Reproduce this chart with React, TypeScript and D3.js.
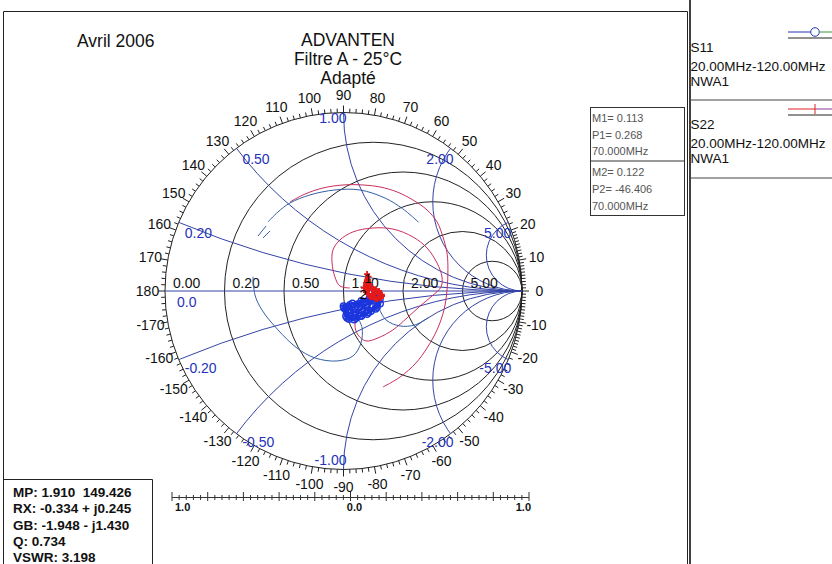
import React from 'react';
import * as d3 from 'd3';

type P = [number, number];

// ---------- text content ----------
const dateLabel = 'Avril 2006';
const titleLines = ['ADVANTEN', 'Filtre A - 25°C', 'Adapté'];
const resistanceValues = [0, 0.2, 0.5, 1, 2, 5];
const resistanceLabels = ['0.00', '0.20', '0.50', '1.00', '2.00', '5.00'];
const reactanceValues = [0.2, 0.5, 1, 2, 5, -0.2, -0.5, -1, -2, -5];
const reactanceLabels = ['0.20', '0.50', '1.00', '2.00', '5.00', '-0.20', '-0.50', '-1.00', '-2.00', '-5.00'];
const angleLabels = d3.range(-170, 181, 10);
const markerBox1 = ['M1= 0.113', 'P1= 0.268', '70.000MHz'];
const markerBox2 = ['M2= 0.122', 'P2= -46.406', '70.000MHz'];
const markerNames = ['1', '2'];
const markerMag = [0.113, 0.122];
const markerPhase = [0.268, -46.406];
const infoLines = ['MP: 1.910  149.426', 'RX: -0.334 + j0.245', 'GB: -1.948 - j1.430', 'Q: 0.734', 'VSWR: 3.198'];
const legendNames = ['S11', 'S22'];
const legendRanges = ['20.00MHz-120.00MHz', '20.00MHz-120.00MHz'];
const legendSources = ['NWA1', 'NWA1'];
const scaleLabels = ['1.0', '0.0', '1.0'];

// ---------- traces (reflection coefficient re, im) ----------
const s11Dash1: P[] = [[-0.479, 0.308], [-0.434, 0.364]];
const s11Dash2: P[] = [[-0.451, 0.297], [-0.412, 0.336]];
const s11Upper: P[] = [[-0.423, 0.387], [-0.367, 0.443], [-0.300, 0.493], [-0.188, 0.538], [-0.048, 0.566], [0.092, 0.566], [0.232, 0.521], [0.330, 0.462], [0.420, 0.386]];
const s11Lower: P[] = [[-0.507, 0.080], [-0.496, -0.022], [-0.457, -0.106], [-0.367, -0.218], [-0.261, -0.319], [-0.160, -0.375], [-0.036, -0.392], [0.053, -0.364], [0.098, -0.291], [0.104, -0.207], [0.081, -0.151]];
const s11Tail: P[] = [[0.193, -0.084], [0.238, -0.162], [0.317, -0.196], [0.401, -0.190], [0.473, -0.151]];
const s11Blob: P[] = [[0.014, -0.140], [0.003, -0.095], [0.036, -0.078], [0.053, -0.129], [0.031, -0.157], [0.070, -0.151], [0.081, -0.095], [0.104, -0.067], [0.120, -0.112], [0.092, -0.140], [0.132, -0.129], [0.148, -0.078], [0.171, -0.050], [0.188, -0.090], [0.154, -0.112], [0.204, -0.045], [0.193, -0.017], [0.160, -0.045], [0.126, -0.078], [0.098, -0.101], [0.064, -0.118], [0.031, -0.123], [0.014, -0.101], [0.048, -0.090], [0.081, -0.073], [0.115, -0.062], [0.143, -0.045], [0.171, -0.028], [0.205, -0.070], [0.180, -0.100], [0.140, -0.120], [0.100, -0.140], [0.060, -0.160], [0.020, -0.150], [0.000, -0.085], [0.050, -0.070], [0.100, -0.055], [0.150, -0.035], [0.190, -0.020]];

const s22Outer: P[] = [[-0.300, 0.499], [-0.216, 0.543], [-0.115, 0.577], [-0.003, 0.594], [0.109, 0.594], [0.204, 0.583], [0.300, 0.555], [0.389, 0.510], [0.468, 0.454], [0.524, 0.387], [0.557, 0.303], [0.580, 0.213], [0.585, 0.118], [0.580, 0.006], [0.563, -0.106], [0.524, -0.218], [0.468, -0.319], [0.406, -0.403], [0.317, -0.482], [0.221, -0.538]];
const s22Inner: P[] = [[0.036, 0.017], [-0.020, 0.028], [-0.048, 0.078], [-0.064, 0.157], [-0.059, 0.230], [-0.020, 0.286], [0.053, 0.331], [0.165, 0.353], [0.277, 0.347], [0.389, 0.303], [0.468, 0.241], [0.524, 0.157], [0.552, 0.078], [0.546, 0.022], [0.496, -0.028], [0.429, -0.084], [0.356, -0.151], [0.277, -0.218], [0.193, -0.263], [0.126, -0.280], [0.081, -0.246], [0.064, -0.190], [0.076, -0.146], [0.104, -0.106]];
const s22Blob: P[] = [[0.132, 0.095], [0.126, 0.045], [0.143, 0.006], [0.115, 0.017], [0.137, 0.062], [0.154, 0.022], [0.176, -0.011], [0.148, -0.028], [0.126, -0.006], [0.165, 0.011], [0.193, -0.017], [0.210, -0.039], [0.182, -0.045], [0.160, -0.017], [0.199, 0.000], [0.216, -0.028], [0.190, -0.045], [0.150, -0.035], [0.128, 0.030], [0.140, 0.080], [0.145, 0.040], [0.180, 0.010], [0.215, -0.020]];

const FONT = 'Liberation Sans, Arial, Helvetica, sans-serif';
const CX = 343.5, CY = 291, R = 178.5;
const GRID_BLUE = '#3444a6';
const LABEL_BLUE = '#2432b8';

export default function App() {
  const x = d3.scaleLinear().domain([-1, 1]).range([CX - R, CX + R]);
  const y = d3.scaleLinear().domain([-1, 1]).range([CY + R, CY - R]);
  const smooth = d3.line<P>().x(d => x(d[0])).y(d => y(d[1])).curve(d3.curveCatmullRom.alpha(0.5));
  const straight = d3.line<P>().x(d => x(d[0])).y(d => y(d[1]));
  const polar = (deg: number, rad: number): P => [CX + rad * Math.cos(deg * Math.PI / 180), CY - rad * Math.sin(deg * Math.PI / 180)];

  // rim ticks
  const tickAngles = d3.range(-180, 180, 2).concat(d3.range(-19, 20, 2));
  // bottom scale
  const sx = d3.scaleLinear().domain([-1, 1]).range([172, 529]);
  const scaleTicks = d3.range(0, 51).map(i => ({ v: -1 + i * 0.04, major: i % 5 === 0 }));

  const markerPts: P[] = markerMag.map((m, i) => [m * Math.cos(markerPhase[i] * Math.PI / 180), m * Math.sin(markerPhase[i] * Math.PI / 180)]);

  return (
    <svg width={832} height={564} style={{ position: 'absolute', left: 0, top: 0, background: '#fff' }} fontFamily={FONT}>
      <defs>
        <clipPath id="unit">
          <circle cx={CX} cy={CY} r={R} />
        </clipPath>
      </defs>
      <rect x={0} y={0} width={832} height={564} fill="#fff" />

      {/* frames */}
      <path d="M3.5,564 V11.5 H687.5 V564" fill="none" stroke="#222" strokeWidth={1} />
      <line x1={690} y1={0} x2={690} y2={564} stroke="#111" strokeWidth={1.6} />
      <line x1={690} y1={100} x2={832} y2={100} stroke="#444" strokeWidth={1} />
      <line x1={690} y1={178} x2={832} y2={178} stroke="#444" strokeWidth={1} />

      {/* titles */}
      <text x={77} y={47} fontSize={17.5} fill="#111">{dateLabel}</text>
      {titleLines.map((t, i) => (
        <text key={t} x={348} y={46 + i * 19} fontSize={17.5} textAnchor="middle" fill="#111">{t}</text>
      ))}

      {/* resistance circles */}
      <g fill="none" stroke="#222" strokeWidth={1}>
        {resistanceValues.map(r => (
          <circle key={r} cx={x(r / (1 + r))} cy={CY} r={R / (1 + r)} />
        ))}
      </g>
      {/* reactance arcs */}
      <g fill="none" stroke={GRID_BLUE} strokeWidth={1} clipPath="url(#unit)">
        {reactanceValues.map(v => (
          <circle key={v} cx={x(1)} cy={y(1 / v)} r={R / Math.abs(v)} />
        ))}
      </g>
      <line x1={x(-1)} y1={CY} x2={x(1)} y2={CY} stroke={GRID_BLUE} strokeWidth={1} />

      {/* rim ticks */}
      <g stroke="#222" strokeWidth={1}>
        {tickAngles.map((a, i) => {
          const len = a % 10 === 0 ? 7 : 4;
          const p0 = polar(a, R);
          const p1 = polar(a, R + len);
          return <line key={i} x1={p0[0]} y1={p0[1]} x2={p1[0]} y2={p1[1]} />;
        })}
      </g>
      {/* angle labels */}
      <g fontSize={14} fill="#111" textAnchor="middle">
        {angleLabels.map(a => {
          const p = polar(a, 196);
          return <text key={a} x={p[0]} y={p[1]} dy="0.36em">{a}</text>;
        })}
      </g>
      {/* resistance labels */}
      <g fontSize={14} fill="#111">
        {resistanceValues.map((r, i) => (
          <text key={r} x={x((r - 1) / (r + 1)) + 8} y={CY - 3}>{resistanceLabels[i]}</text>
        ))}
      </g>
      <text x={x(-1) + 12} y={CY + 16} fontSize={14} fill={LABEL_BLUE}>0.0</text>
      {/* reactance labels */}
      <g fontSize={14} fill={LABEL_BLUE}>
        {reactanceValues.map((v, i) => {
          const gr = (v * v - 1) / (v * v + 1);
          const gi = (2 * v) / (v * v + 1);
          const big = Math.abs(v) >= 1;
          const dx = big ? 3 : 6;
          const dy = v > 0 ? (v === 1 ? 10.5 : 16) : (v === -1 ? -4.5 : 13);
          return (
            <text key={v} x={x(gr) + dx} y={y(gi) + dy} textAnchor={big ? 'end' : 'start'}>{reactanceLabels[i]}</text>
          );
        })}
      </g>

      {/* S22 trace */}
      <g fill="none" stroke="#c8305c" strokeWidth={1}>
        <path d={smooth(s22Outer) || ''} />
        <path d={smooth(s22Inner) || ''} />
      </g>
      {/* S11 trace */}
      <g fill="none" stroke="#3560a4" strokeWidth={1}>
        <path d={straight(s11Dash1) || ''} />
        <path d={straight(s11Dash2) || ''} />
        <path d={smooth(s11Upper) || ''} />
        <path d={smooth(s11Lower) || ''} />
        <path d={smooth(s11Tail) || ''} />
      </g>
      {/* S11 dense passband */}
      <g fill="none" stroke="#1c36de" strokeWidth={1.4}>
        <path d={smooth(s11Blob) || ''} strokeWidth={2.6} />
        {s11Blob.map((d, i) => (
          <circle key={i} cx={x(d[0])} cy={y(d[1])} r={3.2} strokeWidth={1.4} />
        ))}
      </g>
      {/* S22 dense passband */}
      <g fill="none" stroke="#e41a1a" strokeWidth={3}>
        <path d={smooth(s22Blob) || ''} />
        {s22Blob.map((d, i) => (
          <path key={i} d={`M${x(d[0]) - 3},${y(d[1])}H${x(d[0]) + 3}M${x(d[0])},${y(d[1]) - 3}V${y(d[1]) + 3}`} strokeWidth={1.8} />
        ))}
      </g>
      {/* marker labels */}
      {markerPts.map((p, i) => (
        <text key={i} x={x(p[0]) + 4.5} y={y(p[1]) - 7.5} fontSize={13} textAnchor="middle" fill="#000">{markerNames[i]}</text>
      ))}

      {/* marker box */}
      <g fill="none" stroke="#333" strokeWidth={1}>
        <rect x={590.5} y={107.5} width={94} height={108} />
        <line x1={590.5} y1={161} x2={684.5} y2={161} />
      </g>
      <g fontSize={11} fill="#555">
        {markerBox1.map((t, i) => <text key={'a' + i} x={592} y={122 + i * 16.7}>{t}</text>)}
        {markerBox2.map((t, i) => <text key={'b' + i} x={592} y={175.5 + i * 17}>{t}</text>)}
      </g>

      {/* legend */}
      <g fontSize={13.5} fill="#111">
        {legendNames.map((n, i) => {
          const oy = i * 77;
          return (
            <g key={n}>
              <text x={690.5} y={52 + oy}>{n}</text>
              <text x={690.5} y={71 + oy}>{legendRanges[i]}</text>
              <text x={690.5} y={85.5 + oy}>{legendSources[i]}</text>
            </g>
          );
        })}
      </g>
      <g fill="none" strokeWidth={1}>
        <line x1={788} y1={32} x2={811} y2={32} stroke="#2233bb" />
        <circle cx={815} cy={32} r={4.3} stroke="#2233bb" fill="#fff" />
        <line x1={819.3} y1={32} x2={832} y2={32} stroke="#3a9a3a" />
        <line x1={788} y1={38} x2={832} y2={38} stroke="#222" />
        <line x1={788} y1={109} x2={815} y2={109} stroke="#e02020" />
        <line x1={815} y1={109} x2={832} y2={109} stroke="#8a3a9a" />
        <line x1={815} y1={104} x2={815} y2={114} stroke="#e02020" />
        <line x1={788} y1={115} x2={832} y2={115} stroke="#222" />
      </g>

      {/* info box */}
      <path d="M3.5,479.5 H152.5 V564" fill="none" stroke="#222" strokeWidth={1} />
      <g fontSize={13.5} fontWeight="bold" fill="#111">
        {infoLines.map((t, i) => <text key={i} x={13} y={497 + i * 16.3} xmlSpace="preserve">{t}</text>)}
      </g>

      {/* bottom magnitude scale */}
      <g stroke="#333" strokeWidth={1}>
        <line x1={sx(-1)} y1={497.5} x2={sx(1)} y2={497.5} />
        {scaleTicks.map((t, i) => (
          <line key={i} x1={sx(t.v)} y1={t.major ? 492 : 495} x2={sx(t.v)} y2={t.major ? 501 : 500} />
        ))}
      </g>
      <g fontSize={11} fontWeight="bold" fill="#111">
        <text x={sx(-1) + 3} y={511}>{scaleLabels[0]}</text>
        <text x={sx(0) + 4} y={511} textAnchor="middle">{scaleLabels[1]}</text>
        <text x={sx(1) + 2} y={511} textAnchor="end">{scaleLabels[2]}</text>
      </g>
    </svg>
  );
}
